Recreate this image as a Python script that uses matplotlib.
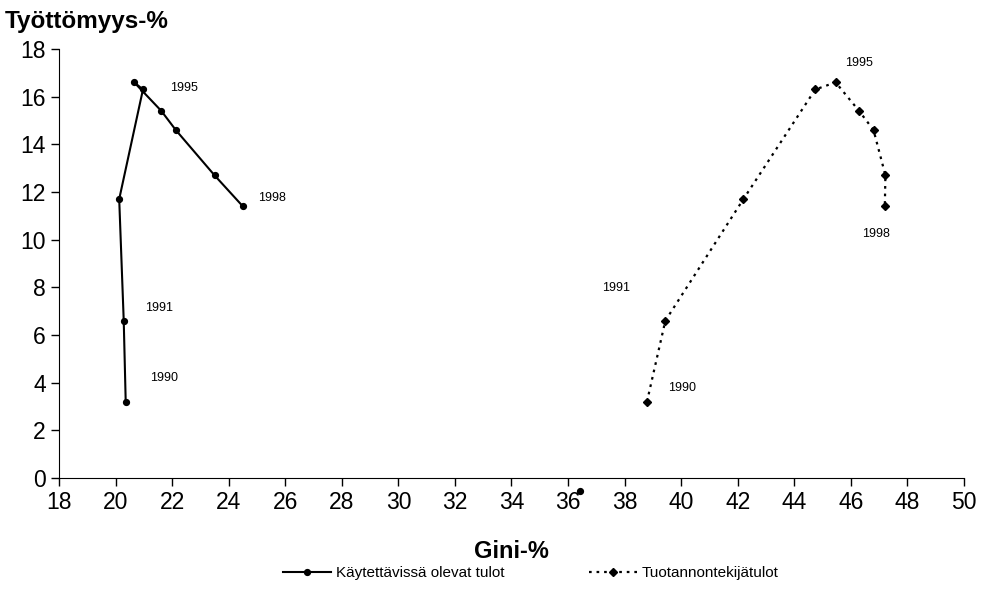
import matplotlib
matplotlib.use("Agg")
import matplotlib.pyplot as plt

plt.rcParams["font.family"] = ["Liberation Sans", "DejaVu Sans"]

# Gini-% (x) and unemployment-% (y), years 1990-1998 in line order
years = [1990, 1991, 1992, 1993, 1994, 1995, 1996, 1997, 1998]
gini_disposable = [20.36, 20.29, 20.13, 20.97, 20.66, 21.62, 22.13, 23.50, 24.50]
unemp_disposable = [3.2, 6.6, 11.7, 16.3, 16.6, 15.4, 14.6, 12.7, 11.4]
gini_factor = [38.79, 39.44, 42.20, 44.74, 45.46, 46.29, 46.80, 47.22, 47.20]
unemp_factor = [3.2, 6.6, 11.7, 16.3, 16.6, 15.4, 14.6, 12.7, 11.4]

# year labels as placed in the original
labels_disposable = {"1995": (21.93, 16.37), "1998": (25.04, 11.75),
                     "1991": (21.04, 7.13), "1990": (21.22, 4.2)}
labels_factor = {"1995": (45.79, 17.41), "1998": (46.39, 10.24),
                 "1991": (37.2, 7.97), "1990": (39.53, 3.78)}

stray_x = [36.42]
stray_y = [-0.53]

fig = plt.figure(figsize=(9.81, 6.01), dpi=100)
ax = fig.add_axes([0.0601, 0.2047, 0.9226, 0.7138])

ax.plot(gini_disposable, unemp_disposable, color="black", lw=1.5,
        marker="o", ms=4.2, label="Käytettävissä olevat tulot")
ax.plot(gini_factor, unemp_factor, color="black", lw=1.6, ls=(0, (1.2, 2.2)),
        marker="D", ms=3.8, label="Tuotannontekijätulot")
ax.plot(stray_x, stray_y, "o", color="black", ms=4.2, clip_on=False)

for txt, (x, y) in list(labels_disposable.items()) + list(labels_factor.items()):
    ax.text(x, y, txt, fontsize=9, va="center", ha="left")

ax.set_xlim(18, 50)
ax.set_ylim(0, 18)
ax.set_xticks(range(18, 51, 2))
ax.set_yticks(range(0, 19, 2))
ax.tick_params(labelsize=16.5, direction="out", length=6, width=1)
for side in ("top", "right"):
    ax.spines[side].set_visible(False)

fig.text(0.005, 0.965, "Työttömyys-%", fontsize=17.5, fontweight="bold",
         ha="left", va="center")
fig.text(0.521, 0.082, "Gini-%", fontsize=17, fontweight="bold",
         ha="center", va="center")

fig.legend(loc="center", bbox_to_anchor=(0.541, 0.046), ncol=2, frameon=False,
           fontsize=11, handlelength=3.2, handletextpad=0.3, columnspacing=5.5)

fig.savefig("out.png", dpi=100)
